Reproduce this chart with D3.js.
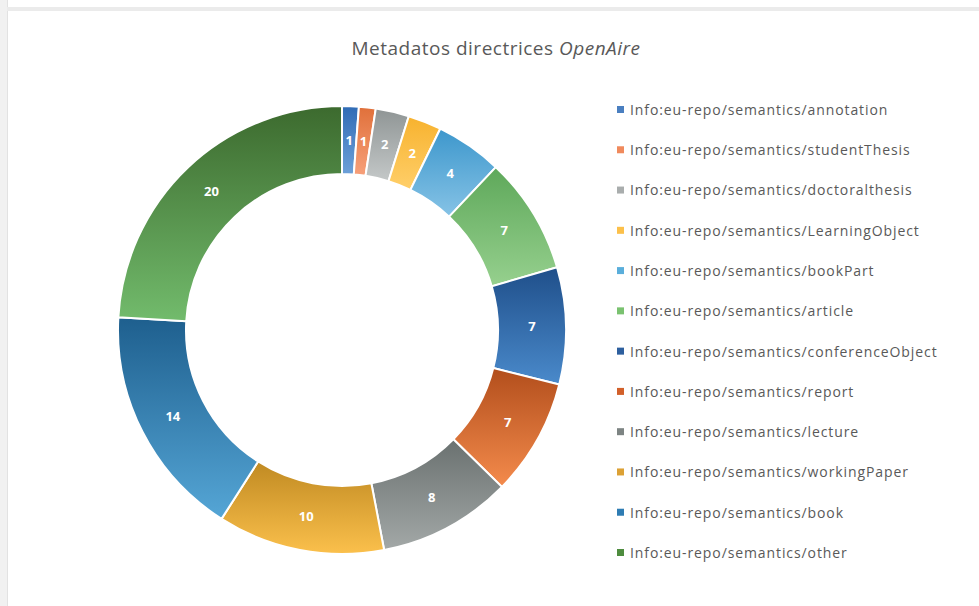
<!DOCTYPE html>
<html lang="es">
<head>
<meta charset="utf-8">
<title>Metadatos directrices OpenAire</title>
<script src="https://d3js.org/d3.v7.min.js"></script>
<style>
body { margin: 0; background: #fff; font-family: "Open Sans", "DejaVu Sans", sans-serif; }
#chart { position: absolute; left: 0; top: 0; }
</style>
</head>
<body>
<div id="chart"></div>
<script>
// data
var categories = [
  "Info:eu-repo/semantics/annotation",
  "Info:eu-repo/semantics/studentThesis",
  "Info:eu-repo/semantics/doctoralthesis",
  "Info:eu-repo/semantics/LearningObject",
  "Info:eu-repo/semantics/bookPart",
  "Info:eu-repo/semantics/article",
  "Info:eu-repo/semantics/conferenceObject",
  "Info:eu-repo/semantics/report",
  "Info:eu-repo/semantics/lecture",
  "Info:eu-repo/semantics/workingPaper",
  "Info:eu-repo/semantics/book",
  "Info:eu-repo/semantics/other"
];
var values = [1, 1, 2, 2, 4, 7, 7, 7, 8, 10, 14, 20];
// top / bottom gradient colours per slice
var topColors = ["#2f6bb5", "#e0703a", "#8f9595", "#f7b22e", "#3d97cc", "#5ea85a",
                 "#1f4f8a", "#b24e1c", "#6a7170", "#c08a22", "#1e5f8e", "#3c6a2e"];
var bottomColors = ["#6ea1d9", "#f7a07a", "#c4c8c8", "#ffcf6a", "#86c3e6", "#96d08e",
                    "#4a8acb", "#f48b4c", "#a3a8a7", "#fbc04c", "#55a6d6", "#72bb6c"];
var legendColors = ["#4a7fc0", "#f08a5d", "#a9adad", "#fcc04a", "#5aaedb", "#7ac270",
                    "#2d5f9e", "#d2602a", "#7d8483", "#dca135", "#2e7cb3", "#4e8c3e"];

var W = 979, H = 606;
var cx = 342, cy = 330, outerR = 224, innerR = 156;

var svg = d3.select("#chart").append("svg")
  .attr("width", W).attr("height", H);

// frame
svg.append("rect").attr("x", 0).attr("y", 0).attr("width", 7).attr("height", H).attr("fill", "#f1f1f1");
svg.append("rect").attr("x", 7).attr("y", 0).attr("width", 1).attr("height", H).attr("fill", "#e2e2e2");
svg.append("rect").attr("x", 7).attr("y", 7).attr("width", W - 7).attr("height", 4).attr("fill", "#ebebeb");

// title
var title = svg.append("text")
  .attr("x", 496).attr("y", 55)
  .attr("text-anchor", "middle")
  .attr("font-size", 19)
  .attr("letter-spacing", 0.5)
  .attr("fill", "#595959");
title.append("tspan").text("Metadatos directrices ");
title.append("tspan").attr("font-style", "italic").text("OpenAire");

// gradients
var defs = svg.append("defs");
categories.forEach(function(c, i) {
  var g = defs.append("linearGradient")
    .attr("id", "grad" + i)
    .attr("x1", 0).attr("y1", 0).attr("x2", 0).attr("y2", 1);
  g.append("stop").attr("offset", "0%").attr("stop-color", topColors[i]);
  g.append("stop").attr("offset", "100%").attr("stop-color", bottomColors[i]);
});

var pie = d3.pie().sort(null).value(function(d) { return d; });
var arc = d3.arc().innerRadius(innerR).outerRadius(outerR);
var labelArc = d3.arc().innerRadius((innerR + outerR) / 2).outerRadius((innerR + outerR) / 2);

var g = svg.append("g").attr("transform", "translate(" + cx + "," + cy + ")");
var arcs = pie(values);

g.selectAll("path.slice")
  .data(arcs)
  .enter()
  .append("path")
    .attr("class", "slice")
    .attr("d", arc)
    .attr("fill", function(d, i) { return "url(#grad" + i + ")"; })
    .attr("stroke", "#fff")
    .attr("stroke-width", 2);

g.selectAll("text.lbl")
  .data(arcs)
  .enter()
  .append("text")
    .attr("class", "lbl")
    .attr("transform", function(d) { return "translate(" + labelArc.centroid(d) + ")"; })
    .attr("text-anchor", "middle")
    .attr("dy", "0.35em")
    .attr("font-size", 13)
    .attr("font-weight", "bold")
    .attr("fill", "#fff")
    .text(function(d) { return d.data; });

// legend
var legendY = d3.scalePoint().domain(categories).range([110, 553]);
var leg = svg.append("g").selectAll("g")
  .data(categories)
  .enter()
  .append("g")
    .attr("transform", function(d) { return "translate(617," + legendY(d) + ")"; });
leg.append("rect")
  .attr("x", 0).attr("y", -4).attr("width", 7).attr("height", 7)
  .attr("fill", function(d, i) { return legendColors[i]; });
leg.append("text")
  .attr("x", 13).attr("y", 0).attr("dy", "0.35em")
  .attr("font-size", 14)
  .attr("letter-spacing", 0.9)
  .attr("fill", "#595959")
  .text(function(d) { return d; });
</script>
</body>
</html>
